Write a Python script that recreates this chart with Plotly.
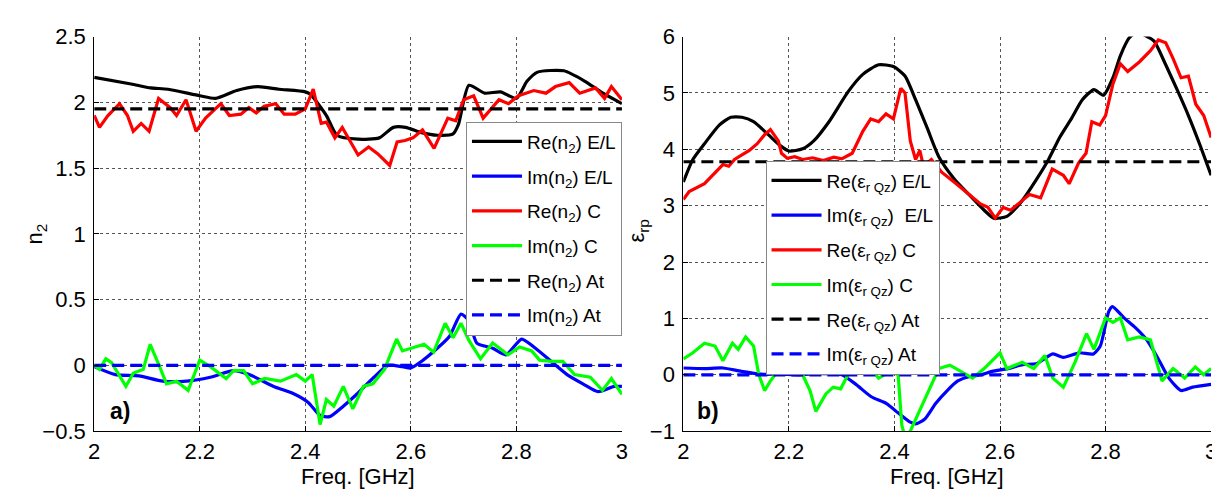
import plotly.graph_objects as go

# ---- left panel: refractive index n2 ----
f_re_n_el = [2.0, 2.07, 2.107, 2.14, 2.2, 2.23, 2.27, 2.31, 2.35, 2.4, 2.41, 2.44, 2.46, 2.5, 2.54,
             2.567, 2.59, 2.62, 2.65, 2.68, 2.69, 2.71, 2.74, 2.77, 2.8, 2.82, 2.84, 2.89, 2.93, 2.96, 3.0]
re_n_el = [2.19, 2.14, 2.11, 2.10, 2.05, 2.03, 2.09, 2.12, 2.10, 2.08, 2.06, 1.90, 1.75, 1.72, 1.73,
           1.81, 1.81, 1.77, 1.75, 1.76, 1.83, 2.13, 2.07, 2.08, 2.03, 2.16, 2.23, 2.24, 2.16, 2.08, 1.99]

f_re_n_c = [2.0, 2.01, 2.026, 2.048, 2.063, 2.074, 2.089, 2.104, 2.122, 2.144, 2.156, 2.174, 2.193,
            2.211, 2.24, 2.256, 2.278, 2.293, 2.307, 2.322, 2.344, 2.36, 2.381, 2.4, 2.415, 2.43,
            2.44, 2.456, 2.47, 2.485, 2.5, 2.52, 2.537, 2.56, 2.574, 2.589, 2.604, 2.622, 2.644,
            2.67, 2.685, 2.7, 2.719, 2.737, 2.767, 2.785, 2.804, 2.833, 2.856, 2.874, 2.9, 2.92,
            2.95, 2.967, 2.98, 3.0]
re_n_c = [1.90, 1.81, 1.90, 1.99, 1.90, 1.78, 1.84, 1.78, 2.03, 1.96, 1.90, 2.02, 1.78,
          1.88, 1.99, 1.90, 1.91, 1.96, 1.92, 1.97, 1.99, 1.91, 1.91, 1.95, 2.10, 1.84,
          1.85, 1.73, 1.81, 1.71, 1.60, 1.66, 1.61, 1.52, 1.70, 1.71, 1.73, 1.79, 1.65,
          1.88, 1.86, 2.02, 2.05, 1.88, 2.02, 1.99, 2.05, 2.09, 2.07, 2.12, 2.15, 2.07,
          2.11, 2.03, 2.12, 2.02]

f_im_n_el = [2.0, 2.04, 2.085, 2.13, 2.175, 2.22, 2.264, 2.294, 2.34, 2.375, 2.405, 2.428, 2.446,
             2.472, 2.5, 2.53, 2.557, 2.584, 2.6, 2.62, 2.65, 2.673, 2.695, 2.71, 2.725, 2.755,
             2.78, 2.81, 2.836, 2.866, 2.896, 2.926, 2.955, 2.985, 3.0]
im_n_el = [-0.01, -0.07, -0.08, -0.12, -0.12, -0.09, -0.04, -0.07, -0.16, -0.21, -0.28, -0.38, -0.39,
           -0.31, -0.21, -0.09, 0.0, -0.01, -0.02, 0.03, 0.13, 0.22, 0.39, 0.34, 0.17, 0.13,
           0.08, 0.20, 0.13, 0.03, -0.07, -0.14, -0.20, -0.16, -0.16]

f_im_n_c = [2.0, 2.01, 2.022, 2.033, 2.06, 2.074, 2.093, 2.106, 2.123, 2.137, 2.156, 2.178, 2.2,
            2.22, 2.25, 2.264, 2.283, 2.3, 2.323, 2.353, 2.383, 2.4, 2.413, 2.428, 2.44, 2.454,
            2.472, 2.49, 2.51, 2.528, 2.55, 2.573, 2.584, 2.606, 2.625, 2.643, 2.665, 2.68,
            2.695, 2.71, 2.732, 2.755, 2.784, 2.806, 2.829, 2.844, 2.866, 2.888, 2.91, 2.94,
            2.963, 2.98, 3.0]
im_n_c = [0.0, -0.03, 0.05, 0.02, -0.16, -0.06, -0.03, 0.16, 0.0, -0.14, -0.12, -0.19, 0.04,
          -0.01, -0.10, -0.04, -0.04, -0.14, -0.10, -0.12, -0.07, -0.12, -0.07, -0.45, -0.26, -0.31,
          -0.16, -0.33, -0.16, -0.14, -0.03, 0.20, 0.11, 0.14, 0.16, 0.10, 0.32, 0.21,
          0.32, 0.19, 0.05, 0.17, 0.08, 0.14, 0.11, 0.04, 0.03, 0.03, -0.07, -0.09,
          -0.19, -0.10, -0.22]

f_at = [2.0, 3.0]
re_n_at = [1.95, 1.95]
im_n_at = [0.0, 0.0]

# ---- right panel: permittivity ----
f_re_e_el = [2.0, 2.018, 2.04, 2.068, 2.09, 2.111, 2.133, 2.161, 2.183, 2.2, 2.226, 2.247, 2.276,
             2.312, 2.34, 2.37, 2.398, 2.42, 2.44, 2.462, 2.484, 2.513, 2.541, 2.57, 2.588, 2.613,
             2.642, 2.67, 2.692, 2.713, 2.735, 2.756, 2.778, 2.796, 2.814, 2.828, 2.845, 2.86,
             2.875, 2.892, 2.914, 2.936, 2.957, 2.978, 3.0]
re_e_el = [3.42, 3.82, 4.10, 4.43, 4.57, 4.57, 4.49, 4.26, 4.07, 3.97, 4.01, 4.15, 4.49,
           5.02, 5.33, 5.50, 5.47, 5.30, 4.88, 4.38, 3.87, 3.48, 3.20, 2.92, 2.78, 2.81,
           3.09, 3.48, 3.82, 4.21, 4.54, 4.88, 5.06, 4.96, 5.27, 5.66, 5.98, 6.08,
           6.02, 5.92, 5.50, 5.05, 4.60, 4.10, 3.54]

f_re_e_c = [2.0, 2.011, 2.04, 2.061, 2.075, 2.086, 2.097, 2.111, 2.125, 2.14, 2.154, 2.165, 2.18,
            2.186, 2.197, 2.211, 2.226, 2.245, 2.265, 2.285, 2.3, 2.32, 2.34, 2.355, 2.37, 2.384,
            2.398, 2.412, 2.42, 2.43, 2.44, 2.448, 2.455, 2.47, 2.49, 2.513, 2.541, 2.563,
            2.577, 2.591, 2.606, 2.62, 2.642, 2.656, 2.677, 2.699, 2.72, 2.731, 2.749, 2.763,
            2.774, 2.789, 2.8, 2.814, 2.828, 2.842, 2.864, 2.885, 2.9, 2.914, 2.928, 2.943,
            2.957, 2.971, 2.986, 3.0]
re_e_c = [3.11, 3.25, 3.39, 3.59, 3.73, 3.70, 3.82, 3.90, 3.98, 4.10, 4.26, 4.35, 4.15,
          3.93, 3.84, 3.87, 3.82, 3.85, 3.80, 3.86, 3.83, 3.93, 4.32, 4.54, 4.49, 4.63,
          4.54, 5.08, 5.0, 4.15, 3.82, 3.98, 3.70, 3.82, 3.59, 3.42, 3.20, 3.03,
          2.97, 2.78, 2.97, 2.92, 3.09, 3.20, 3.14, 3.65, 3.54, 3.39, 3.76, 3.93,
          4.49, 4.43, 4.60, 5.16, 5.52, 5.38, 5.55, 5.75, 5.94, 5.89, 5.61, 5.27,
          5.30, 4.80, 4.60, 4.21]

f_im_e_el = [2.0, 2.04, 2.075, 2.11, 2.147, 2.183, 2.22, 2.26, 2.3, 2.327, 2.356, 2.385, 2.406,
             2.428, 2.44, 2.457, 2.478, 2.5, 2.52, 2.543, 2.565, 2.585, 2.615, 2.643, 2.67,
             2.7, 2.72, 2.75, 2.777, 2.79, 2.806, 2.813, 2.835, 2.856, 2.878, 2.9, 2.92,
             2.943, 2.965, 3.0]
im_e_el = [0.12, 0.11, 0.12, 0.06, 0.01, 0.01, 0.0, 0.02, 0.0, -0.17, -0.39, -0.51, -0.67,
           -0.83, -0.87, -0.79, -0.51, -0.28, -0.11, -0.03, 0.0, 0.06, 0.11, 0.18, 0.20,
           0.37, 0.31, 0.39, 0.37, 0.51, 1.12, 1.21, 1.01, 0.84, 0.62, 0.28, -0.06,
           -0.28, -0.22, -0.17]

f_im_e_c = [2.0, 2.018, 2.04, 2.06, 2.075, 2.093, 2.104, 2.118, 2.133, 2.143, 2.154, 2.165, 2.176,
            2.2, 2.226, 2.24, 2.251, 2.27, 2.284, 2.298, 2.312, 2.335, 2.355, 2.37, 2.392, 2.407,
            2.414, 2.42, 2.43, 2.44, 2.46, 2.484, 2.505, 2.527, 2.548, 2.57, 2.6, 2.613,
            2.642, 2.664, 2.685, 2.7, 2.72, 2.742, 2.764, 2.778, 2.8, 2.814, 2.828, 2.842,
            2.864, 2.885, 2.907, 2.928, 2.95, 2.97, 2.986, 3.0]
im_e_c = [0.28, 0.39, 0.56, 0.51, 0.25, 0.56, 0.45, 0.67, 0.51, 0.0, -0.28, -0.11, 0.03,
          0.10, 0.0, -0.28, -0.65, -0.34, -0.22, -0.25, 0.0, 0.15, 0.11, -0.06, 0.06, 0.0,
          -0.9, -1.1, -1.0, -0.79, -0.39, 0.11, 0.17, 0.06, -0.06, 0.11, 0.39, 0.11,
          0.22, 0.11, 0.34, -0.06, -0.22, 0.22, 0.73, 0.45, 1.01, 0.93, 1.01, 0.62,
          0.67, 0.62, -0.11, 0.11, -0.06, 0.14, 0.0, 0.11]

re_e_at = [3.78, 3.78]
im_e_at = [0.0, 0.0]

FONT = "Liberation Sans, Arial, sans-serif"
W, H = 1220, 495


def px_x(p):
    return p / W


def px_y(p):
    return 1 - p / H


fig = go.Figure()

# (x, y, name, colour, dash, smooth) - the E/L curves are smooth in the source figure
left = [
    (f_re_n_el, re_n_el, "Re(n<sub>2</sub>) E/L", "#000000", "solid", True),
    (f_im_n_el, im_n_el, "Im(n<sub>2</sub>) E/L", "#0000ff", "solid", True),
    (f_re_n_c, re_n_c, "Re(n<sub>2</sub>) C", "#ff0000", "solid", False),
    (f_im_n_c, im_n_c, "Im(n<sub>2</sub>) C", "#00ff00", "solid", False),
    (f_at, re_n_at, "Re(n<sub>2</sub>) At", "#000000", "dash", False),
    (f_at, im_n_at, "Im(n<sub>2</sub>) At", "#0000ff", "dash", False),
]
right = [
    (f_re_e_el, re_e_el, "Re(ε<sub>r Qz</sub>) E/L", "#000000", "solid", True),
    (f_im_e_el, im_e_el, "Im(ε<sub>r Qz</sub>)  E/L", "#0000ff", "solid", True),
    (f_re_e_c, re_e_c, "Re(ε<sub>r Qz</sub>) C", "#ff0000", "solid", False),
    (f_im_e_c, im_e_c, "Im(ε<sub>r Qz</sub>) C", "#00ff00", "solid", False),
    (f_at, re_e_at, "Re(ε<sub>r Qz</sub>) At", "#000000", "dash", False),
    (f_at, im_e_at, "Im(ε<sub>r Qz</sub>) At", "#0000ff", "dash", False),
]


def line_style(col, dash, smooth):
    d = dict(color=col, width=3.2, dash="12px,6px" if dash == "dash" else "solid")
    if smooth:
        d.update(shape="spline", smoothing=0.6)
    return d


for i, (x, y, name, col, dash, smooth) in enumerate(left):
    fig.add_trace(go.Scatter(
        x=x, y=y, mode="lines", name=name, legend="legend", legendgroup=f"l{i}",
        line=line_style(col, dash, smooth), xaxis="x", yaxis="y"))

for i, (x, y, name, col, dash, smooth) in enumerate(right):
    fig.add_trace(go.Scatter(
        x=x, y=y, mode="lines", name=name, legend="legend2", legendgroup=f"r{i}",
        line=line_style(col, dash, smooth), xaxis="x2", yaxis="y2"))

axis_common = dict(
    showline=True, linecolor="#000000", linewidth=1, mirror=False,
    showgrid=True, gridcolor="#555555", gridwidth=1, griddash="dot",
    zeroline=False, ticks="inside", ticklen=5, tickcolor="#000000",
    tickfont=dict(family=FONT, size=22, color="#000000"),
)

dom_y = [px_y(433), px_y(17.5)]

legend_common = dict(
    bgcolor="white", bordercolor="#888888", borderwidth=1,
    font=dict(family=FONT, size=19, color="#000000"),
    tracegroupgap=7, traceorder="grouped", itemwidth=50,
)

fig.update_layout(
    width=W, height=H,
    margin=dict(l=0, r=0, t=0, b=0),
    paper_bgcolor="white", plot_bgcolor="white",
    font=dict(family=FONT, color="#000000"),
    xaxis=dict(domain=[px_x(81), px_x(614)], range=[2, 3], dtick=0.2, anchor="y",
               ticklabelstandoff=0, **axis_common),
    yaxis=dict(domain=dom_y, range=[-0.5, 2.5], dtick=0.5, anchor="x",
               ticklabelstandoff=3, **axis_common),
    xaxis2=dict(domain=[px_x(676), px_x(1209)], range=[2, 3], dtick=0.2, anchor="y2",
                ticklabelstandoff=0, **axis_common),
    yaxis2=dict(domain=dom_y, range=[-1, 6], dtick=1, anchor="x2",
                ticklabelstandoff=3, **axis_common),
    legend=dict(x=px_x(614), xanchor="right", y=px_y(107), yanchor="top", **legend_common),
    legend2=dict(x=px_x(759), xanchor="left", y=px_y(148), yanchor="top", **legend_common),
    showlegend=True,
)

text_common = dict(xref="paper", yref="paper", showarrow=False,
                   xanchor="center", yanchor="middle")
annots = [
    dict(text="Freq. [GHz]", x=px_x(347), y=px_y(481), font=dict(size=22), **text_common),
    dict(text="Freq. [GHz]", x=px_x(942), y=px_y(481), font=dict(size=22), **text_common),
    dict(text="n<sub>2</sub>", x=px_x(22), y=px_y(225), textangle=-90,
         font=dict(size=22), **text_common),
    dict(text="ε<sub>rp</sub>", x=px_x(630), y=px_y(222), textangle=-90,
         font=dict(size=22), **text_common),
    dict(text="<b>a)</b>", x=px_x(107), y=px_y(412), font=dict(size=23), **text_common),
    dict(text="<b>b)</b>", x=px_x(701), y=px_y(412), font=dict(size=23), **text_common),
]
fig.update_layout(annotations=annots)

fig.write_html("out.html")
